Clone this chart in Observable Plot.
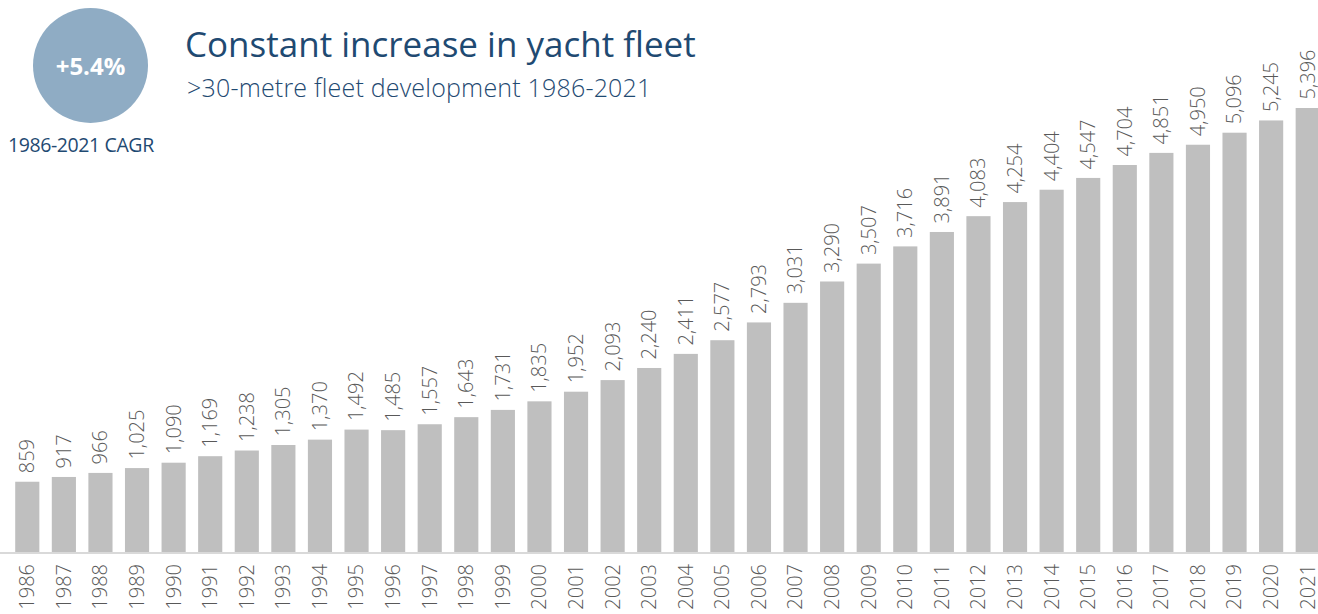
<!DOCTYPE html>
<html>
<head>
<meta charset="utf-8">
<script src="https://cdn.jsdelivr.net/npm/d3@7"></script>
<script src="https://cdn.jsdelivr.net/npm/@observablehq/plot@0.6"></script>
<style>
  html, body { margin: 0; padding: 0; background: #fff; }
  #wrap { position: relative; width: 1318px; height: 614px; overflow: hidden; font-family: "Open Sans", sans-serif; }
  #circle { position: absolute; left: 33px; top: 8px; width: 115px; height: 115px; border-radius: 50%; background: #8facc4;
            color: #fff; font-weight: 700; font-size: 24px; display: flex; align-items: center; justify-content: center; }
  #cagr { position: absolute; left: 8px; top: 131px; font-size: 19.5px; letter-spacing: -0.4px; color: #1f4a72; }
  #title { position: absolute; left: 185px; top: 20px; font-size: 35px; color: #1f4a72; }
  #subtitle { position: absolute; left: 187px; top: 70px; font-size: 25px; font-weight: 300; color: #1f4a72; letter-spacing: 0.2px; }
  #chart { position: absolute; left: 0; top: 0; }
</style>
</head>
<body>
<div id="wrap">
  <div id="chart"></div>
  <div id="circle">+5.4%</div>
  <div id="cagr">1986-2021 CAGR</div>
  <div id="title">Constant increase in yacht fleet</div>
  <div id="subtitle">&gt;30-metre fleet development 1986-2021</div>
</div>
<script>
const years = ["1986","1987","1988","1989","1990","1991","1992","1993","1994","1995","1996","1997","1998","1999","2000","2001","2002","2003","2004","2005","2006","2007","2008","2009","2010","2011","2012","2013","2014","2015","2016","2017","2018","2019","2020","2021"];
const fleet = [859,917,966,1025,1090,1169,1238,1305,1370,1492,1485,1557,1643,1731,1835,1952,2093,2240,2411,2577,2793,3031,3290,3507,3716,3891,4083,4254,4404,4547,4704,4851,4950,5096,5245,5396];

const data = years.map((y, i) => ({year: y, value: fleet[i]}));
const fmt = d3.format(",");

const chart = Plot.plot({
  width: 1318,
  height: 614,
  marginTop: 108,
  marginBottom: 61.5,
  marginLeft: 0,
  marginRight: 0,
  style: {fontFamily: "'Open Sans', sans-serif", background: "transparent"},
  x: {domain: years, range: [9, 1326], paddingInner: 0.34, paddingOuter: 0.17, round: false},
  y: {domain: [0, 5396], axis: null},
  marks: [
    Plot.barY(data, {x: "year", y: "value", fill: "#bfbfbf"}),
    Plot.ruleY([0], {stroke: "#d9d9d9", strokeWidth: 2}),
    Plot.text(data, {x: "year", y: "value", text: d => fmt(d.value), rotate: -90, textAnchor: "start",
      lineAnchor: "middle", dy: -9, fontSize: 20, fontWeight: 300, fill: "#595959"}),
    Plot.axisX({tickRotate: -90, tickSize: 0, tickPadding: 11, fontSize: 20, fontWeight: 300, color: "#595959", label: null})
  ]
});
document.getElementById("chart").appendChild(chart);
</script>
</body>
</html>
